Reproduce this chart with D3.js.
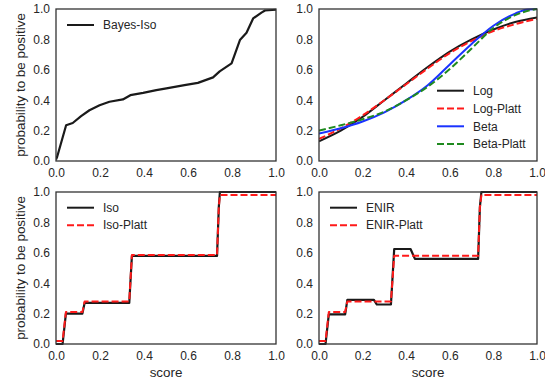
<!DOCTYPE html>
<html><head><meta charset="utf-8">
<script src="https://cdn.jsdelivr.net/npm/d3@7"></script>
<style>
html,body{margin:0;padding:0;background:#fff;}
text{font-family:"Liberation Sans",Arial,sans-serif;fill:#262626;}
</style></head>
<body><svg id="c" width="545" height="381"></svg>
<script>
// ---- data ----
const tickLabels = ["0.0","0.2","0.4","0.6","0.8","1.0"];
const tickValues = [0,0.2,0.4,0.6,0.8,1.0];

const bayesIso = [[0,0.01],[0.005,0.026],[0.046,0.235],[0.076,0.25],[0.114,0.295],[0.152,0.334],[0.198,0.367],[0.243,0.39],[0.304,0.405],[0.338,0.433],[0.396,0.448],[0.456,0.466],[0.502,0.478],[0.584,0.499],[0.645,0.514],[0.714,0.55],[0.744,0.59],[0.798,0.642],[0.836,0.796],[0.866,0.844],[0.896,0.938],[0.934,0.976],[0.95,0.99],[1.0,0.995]];

const logX = [0,0.1,0.2,0.3,0.4,0.5,0.6,0.7,0.8,0.9,1.0];
const logY = [0.13,0.20,0.29,0.40,0.51,0.62,0.72,0.80,0.865,0.915,0.945];
const logPlattY = [0.145,0.215,0.30,0.40,0.505,0.61,0.71,0.79,0.855,0.90,0.935];
const betaX = [0,0.1,0.2,0.3,0.4,0.5,0.6,0.7,0.8,0.9,0.95,1.0];
const betaY = [0.18,0.215,0.26,0.32,0.40,0.50,0.635,0.77,0.89,0.97,0.995,1.0];
const betaPlattY = [0.20,0.235,0.275,0.325,0.40,0.49,0.605,0.74,0.875,0.96,0.985,1.0];

const iso = [[0,0],[0.03,0],[0.045,0.20],[0.12,0.20],[0.13,0.27],[0.333,0.27],[0.345,0.58],[0.732,0.58],[0.74,0.9],[0.745,1.0],[1.0,1.0]];
const isoPlatt = [[0,0.02],[0.03,0.02],[0.045,0.21],[0.12,0.21],[0.13,0.28],[0.333,0.28],[0.345,0.585],[0.732,0.585],[0.74,0.9],[0.745,0.98],[1.0,0.98]];
const enir = [[0,0],[0.03,0],[0.045,0.195],[0.12,0.195],[0.13,0.29],[0.252,0.29],[0.265,0.26],[0.33,0.26],[0.345,0.625],[0.42,0.625],[0.44,0.56],[0.73,0.56],[0.738,0.9],[0.745,1.0],[1.0,1.0]];
const enirPlatt = [[0,0.02],[0.03,0.02],[0.045,0.21],[0.12,0.21],[0.13,0.28],[0.33,0.28],[0.345,0.58],[0.73,0.58],[0.738,0.9],[0.745,0.98],[1.0,0.98]];

const yLabel = "probability to be positive";
const xLabel = "score";

// ---- layout ----
const svg = d3.select("#c");
const panels = [
  {x0:56, x1:276, y0:9, y1:161, ylab:true, xlab:false},
  {x0:319, x1:537, y0:9, y1:161, ylab:false, xlab:false},
  {x0:56, x1:276, y0:192, y1:344, ylab:true, xlab:true},
  {x0:319, x1:537, y0:192, y1:344, ylab:false, xlab:true}
];
const C = {k:"#1a1a1a", r:"#ff1a1a", b:"#1a33ff", g:"#1f8a1f"};

function setup(p){
  p.x = d3.scaleLinear().domain([0,1]).range([p.x0,p.x1]);
  p.y = d3.scaleLinear().domain([0,1]).range([p.y1,p.y0]);
  const g = svg.append("g");
  p.g = g;
  p.clip = "clip"+Math.round(p.x0)+"_"+Math.round(p.y0);
  svg.append("clipPath").attr("id",p.clip).append("rect")
    .attr("x",p.x0).attr("y",p.y0-2).attr("width",p.x1-p.x0).attr("height",p.y1-p.y0+4);
  const xa = d3.axisBottom(p.x).tickValues(tickValues).tickFormat((d,i)=>tickLabels[i]).tickSize(0).tickPadding(7);
  const ya = d3.axisLeft(p.y).tickValues(tickValues).tickFormat((d,i)=>tickLabels[i]).tickSize(0).tickPadding(6);
  const gx = g.append("g").attr("transform",`translate(0,${p.y1})`).call(xa);
  const gy = g.append("g").attr("transform",`translate(${p.x0},0)`).call(ya);
  [gx,gy].forEach(a=>{a.select(".domain").remove();a.selectAll("text").style("font-size","12px").attr("fill","#262626").style("font-family","'Liberation Sans',Arial,sans-serif");});
  if(p.ylab){
    g.append("text").attr("transform",`translate(20,${(p.y0+p.y1)/2}) rotate(-90)`)
      .attr("text-anchor","middle").attr("dy","0.35em").style("font-size","13.4px").text(yLabel);
  }
  if(p.xlab){
    g.append("text").attr("x",(p.x0+p.x1)/2).attr("y",p.y1+28)
      .attr("text-anchor","middle").attr("dy","0.35em").style("font-size","13.4px").text(xLabel);
  }
  p.lines = g.append("g").attr("clip-path",`url(#${p.clip})`);
}
function frame(p){
  p.g.append("rect").attr("x",p.x0).attr("y",p.y0).attr("width",p.x1-p.x0).attr("height",p.y1-p.y0)
    .attr("fill","none").attr("stroke","#333").attr("stroke-width",1.3);
}
function draw(p,pts,color,dash,w,curve){
  const line = d3.line().x(d=>p.x(d[0])).y(d=>p.y(d[1])).curve(curve||d3.curveLinear);
  p.lines.append("path").attr("d",line(pts)).attr("fill","none").attr("stroke",color)
    .attr("stroke-width",w).attr("stroke-dasharray",dash||null).attr("stroke-linejoin","round");
}
function legend(p,lx,items,y0,dy){
  items.forEach((it,i)=>{
    const y = y0+i*dy;
    p.g.append("line").attr("x1",lx).attr("x2",lx+27).attr("y1",y).attr("y2",y)
      .attr("stroke",it.c).attr("stroke-width",2).attr("stroke-dasharray",it.d||null);
    p.g.append("text").attr("x",lx+36).attr("y",y).attr("dy","0.35em").style("font-size","12px").text(it.t);
  });
}
panels.forEach(setup);

// panel 1
draw(panels[0],bayesIso,C.k,null,2.2);
legend(panels[0],67,[{t:"Bayes-Iso",c:C.k}],25,18);

// panel 2
const zip=(xs,ys)=>xs.map((x,i)=>[x,ys[i]]);
const mono = d3.curveMonotoneX;
draw(panels[1],zip(logX,logY),C.k,null,2,mono);
draw(panels[1],zip(logX,logPlattY),C.r,"7,3",2,mono);
draw(panels[1],zip(betaX,betaY),C.b,null,2,mono);
draw(panels[1],zip(betaX,betaPlattY),C.g,"7,3",2,mono);
legend(panels[1],437,[{t:"Log",c:C.k},{t:"Log-Platt",c:C.r,d:"7,3"},{t:"Beta",c:C.b},{t:"Beta-Platt",c:C.g,d:"7,3"}],90.7,17.8);

// panel 3
draw(panels[2],iso,C.k,null,2.2);
draw(panels[2],isoPlatt,C.r,"7,3",2);
legend(panels[2],67,[{t:"Iso",c:C.k},{t:"Iso-Platt",c:C.r,d:"7,3"}],207.7,17.5);

// panel 4
draw(panels[3],enir,C.k,null,2.2);
draw(panels[3],enirPlatt,C.r,"7,3",2);
legend(panels[3],330,[{t:"ENIR",c:C.k},{t:"ENIR-Platt",c:C.r,d:"7,3"}],207.7,17.5);

panels.forEach(frame);
</script></body></html>
